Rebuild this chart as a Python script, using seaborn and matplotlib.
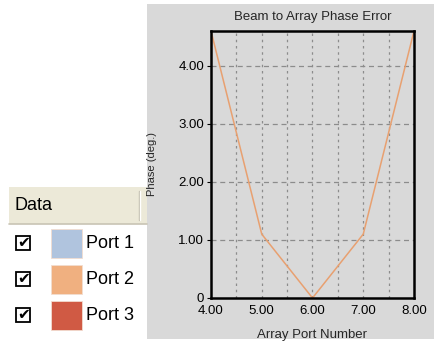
import matplotlib
matplotlib.use("Agg")
import matplotlib.pyplot as plt
import seaborn as sns
import pandas as pd
from matplotlib.patches import Rectangle

# ---- data ----
port_numbers = [4.0, 5.0, 6.0, 7.0, 8.0]
phase_error = [4.6, 1.1, 0.0, 1.1, 4.6]
legend_labels = ["Port 1", "Port 2", "Port 3"]
legend_colors = ["#B0C4DE", "#F0B080", "#D05A44"]
x_ticks = [4.0, 5.0, 6.0, 7.0, 8.0]
x_tick_labels = ["4.00", "5.00", "6.00", "7.00", "8.00"]
y_ticks = [0, 1, 2, 3, 4]
y_tick_labels = ["0", "1.00", "2.00", "3.00", "4.00"]

sns.set_style("white")
plt.rcParams["font.family"] = ["Liberation Sans", "DejaVu Sans"]

W, H = 435, 341
fig = plt.figure(figsize=(W / 100, H / 100), dpi=100, facecolor="white")

# background overlay in pixel coords
bg = fig.add_axes([0, 0, 1, 1], zorder=0)
bg.set_xlim(0, W)
bg.set_ylim(H, 0)
bg.axis("off")
GRAY = "#D9D9D9"
bg.add_patch(Rectangle((147, 4), 288, 335, facecolor=GRAY, edgecolor="none"))

# legend panel
bg.add_patch(Rectangle((9, 187), 138, 37, facecolor="#ECE9D8", edgecolor="none"))
bg.plot([9, 147], [224, 224], color="#C8C4B4", lw=1.2)
bg.plot([139, 139], [191, 220], color="#C0BCAC", lw=1.0)
bg.plot([140.5, 140.5], [191, 220], color="white", lw=1.0)
bg.text(15, 206, "Data", fontsize=13, va="center", ha="left", color="black")

ys = [243, 279, 315]
for yc, lab, col in zip(ys, legend_labels, legend_colors):
    bg.add_patch(Rectangle((16.5, yc - 7.5), 14, 14, facecolor="white",
                           edgecolor="black", lw=1.3))
    bg.text(23.5, yc - 0.5, "\u2714", fontsize=11, ha="center", va="center",
            family="DejaVu Sans", color="black")
    bg.add_patch(Rectangle((51, yc - 14.5), 31, 29, facecolor=col,
                           edgecolor="#F2DDD0", lw=0.6))
    bg.text(86, yc + 1, lab, fontsize=13, ha="left", va="center", color="black")

# main chart
L, R, T, B = 211, 414, 31, 298
ax = fig.add_axes([L / W, 1 - B / H, (R - L) / W, (B - T) / H], zorder=1)
ax.set_facecolor(GRAY)

df = pd.DataFrame({"Array Port Number": port_numbers, "Phase": phase_error})
sns.lineplot(data=df, x="Array Port Number", y="Phase", ax=ax,
             color="#E8A070", lw=1.1, legend=False)

ax.set_xlim(4, 8)
ax.set_ylim(0, 4.6)
ax.set_xticks(x_ticks)
ax.set_xticklabels(x_tick_labels)
ax.set_yticks(y_ticks)
ax.set_yticklabels(y_tick_labels)

for xv in [4.5, 5.0, 5.5, 6.0, 6.5, 7.0, 7.5]:
    ax.axvline(xv, color="#8C8C8C", lw=0.9, ls=(0, (2, 3)), zorder=0.5)
for yv in [1, 2, 3, 4]:
    ax.axhline(yv, color="#8C8C8C", lw=0.9, ls=(0, (4, 3)), zorder=0.5)

for s in ax.spines.values():
    s.set_color("black")
    s.set_linewidth(1.8)
    s.set_visible(True)

ax.tick_params(axis="both", which="both", length=3, width=0.8, direction="out",
               labelsize=9.5, colors="black", pad=2, left=True, bottom=False)
ax.set_xlabel("Array Port Number", fontsize=9.5, labelpad=9)
ax.set_ylabel("Phase (deg.)", fontsize=8, labelpad=15)
ax.set_title("Beam to Array Phase Error", fontsize=9.5, pad=8)

fig.savefig("out.png", dpi=100, facecolor="white")
